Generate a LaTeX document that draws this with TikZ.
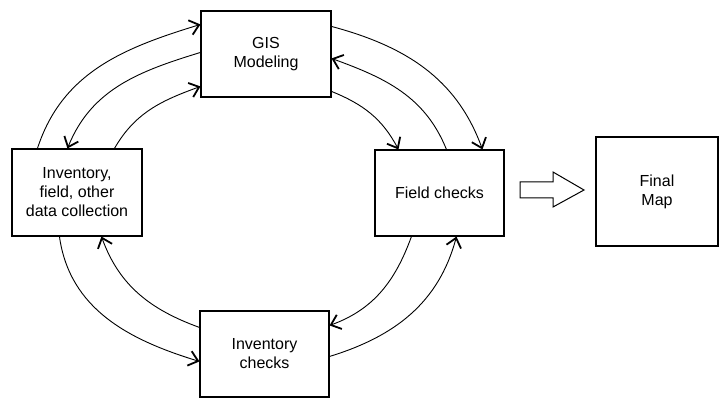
\documentclass[tikz,border=0pt]{standalone}
\usepackage{fontspec}
\setmainfont{Liberation Sans}
\usetikzlibrary{arrows.meta}
\begin{document}
\begin{tikzpicture}[x=1pt,y=1pt,
  box/.style={draw,line width=1.1pt,inner sep=0pt,align=center,
    font=\fontsize{16}{19}\selectfont},
  conn/.style={line width=0.9pt,-{Straight Barb[length=9pt,width=15pt,line width=1.8pt]}},
  fatarrow/.style={draw,line width=1pt,fill=white}]
\useasboundingbox (0,0) rectangle (720,-398);
\node[box,minimum width=130pt,minimum height=86pt] (gis) at (266,-54) {GIS\\Modeling};
\node[box,minimum width=130pt,minimum height=87pt] (inv) at (77,-192.5) {Inventory,\\field, other\\data collection};
\node[box,minimum width=129pt,minimum height=86pt] (field) at (439.5,-193) {Field checks};
\node[box,minimum width=129pt,minimum height=86pt] (chk) at (264.5,-354) {Inventory\\checks};
\node[box,minimum width=122pt,minimum height=109pt] (final) at (657,-191.5) {Final\\Map};
% left - GIS
\draw[conn] ([xshift=26pt]inv.north west) to[out=72,in=197] ([yshift=-14pt]gis.north west);
\draw[conn] ([yshift=-42pt]gis.north west) to[out=197,in=68] ([xshift=56pt]inv.north west);
\draw[conn] ([xshift=103pt]inv.north west) to[out=60,in=200] ([yshift=-76pt]gis.north west);
% GIS - field
\draw[conn] ([yshift=-16pt]gis.north east) to[out=-15,in=110] ([xshift=108pt]field.north west);
\draw[conn] ([xshift=72pt]field.north west) to[out=112,in=-20] ([yshift=-48pt]gis.north east);
\draw[conn] ([yshift=-81pt]gis.north east) to[out=-22,in=118] ([xshift=24pt]field.north west);
% inv - checks
\draw[conn] ([xshift=48pt]inv.south west) to[out=-82,in=163] ([yshift=-51pt]chk.north west);
\draw[conn] ([yshift=-17pt]chk.north west) to[out=160,in=-70] ([xshift=90pt]inv.south west);
% field - checks
\draw[conn] ([xshift=37pt]field.south west) to[out=-110,in=20] ([yshift=-15pt]chk.north east);
\draw[conn] ([yshift=-46pt]chk.north east) to[out=17,in=-105] ([xshift=82pt]field.south west);
% hollow arrow
\draw[fatarrow] (520,-182) -- (553,-182) -- (553,-172) -- (584,-190) -- (553,-207) -- (553,-198) -- (520,-198) -- cycle;
\end{tikzpicture}
\end{document}
